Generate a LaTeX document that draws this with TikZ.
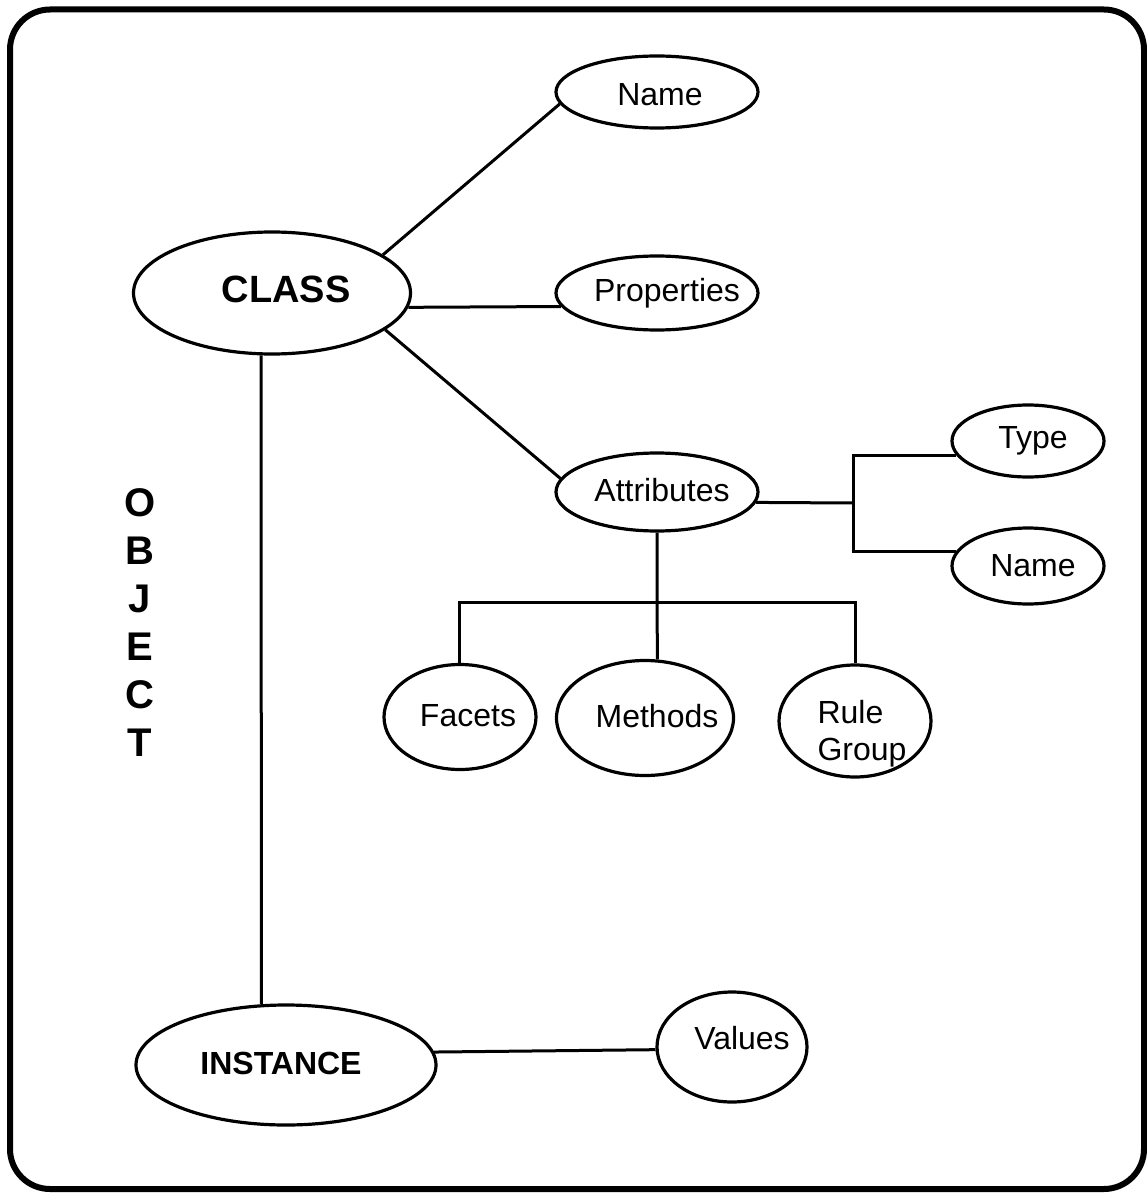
\documentclass[tikz,border=0pt]{standalone}
\usepackage{fontspec}
\setmainfont{Liberation Sans}
\usetikzlibrary{shapes.geometric}
\tikzset{
  ell/.style={draw, ellipse, line width=3.2pt, inner sep=0pt},
  lbl/.style={font=\fontsize{32}{37}\selectfont, inner sep=0pt, align=left},
  blbl/.style={font=\fontsize{38}{44}\selectfont\bfseries, inner sep=0pt},
  ilbl/.style={font=\fontsize{32}{37}\selectfont\bfseries, inner sep=0pt},
  conn/.style={line width=3pt},
  frame/.style={line width=6pt, rounded corners=40pt}
}
\begin{document}
\begin{tikzpicture}[x=1pt,y=-1pt]
\useasboundingbox (0,0) rectangle (1147,1193);
\draw[frame] (10,9.5) rectangle (1144,1189);

\node[ell, minimum width=202pt, minimum height=72pt,
  label={[lbl,xshift=3pt,yshift=-3pt,name=tname1]center:Name}] (name1) at (657,92) {};
\node[ell, minimum width=277pt, minimum height=122pt,
  label={[blbl,xshift=14pt,yshift=4pt,name=tclass]center:CLASS}] (class) at (272,293) {};
\node[ell, minimum width=202pt, minimum height=74pt,
  label={[lbl,xshift=10pt,yshift=0pt,name=tprop]center:Properties}] (prop) at (657,293) {};
\node[ell, minimum width=202pt, minimum height=78pt,
  label={[lbl,xshift=5pt,yshift=2pt,name=tattr]center:Attributes}] (attr) at (657,492) {};
\node[ell, minimum width=152pt, minimum height=72pt,
  label={[lbl,xshift=5pt,name=ttype]center:Type}] (type) at (1028,441) {};
\node[ell, minimum width=152pt, minimum height=76pt,
  label={[lbl,xshift=5pt,name=tname2]center:Name}] (name2) at (1028,566) {};
\node[ell, minimum width=152pt, minimum height=105pt,
  label={[lbl,xshift=8pt,yshift=1pt,name=tfac]center:Facets}] (fac) at (460,717) {};
\node[ell, minimum width=177pt, minimum height=115pt,
  label={[lbl,xshift=12pt,yshift=2pt,name=tmeth]center:Methods}] (meth) at (645,718) {};
\node[ell, minimum width=152pt, minimum height=112pt,
  label={[lbl,xshift=7pt,yshift=-13pt,name=trule]center:Rule\\Group}] (rule) at (855,721) {};
\node[ell, minimum width=300pt, minimum height=120pt,
  label={[ilbl,xshift=-5pt,yshift=2pt,name=tinst]center:INSTANCE}] (inst) at (286,1065) {};
\node[ell, minimum width=150pt, minimum height=110pt,
  label={[lbl,xshift=10pt,yshift=9pt,name=tval]center:Values}] (val) at (732,1047) {};

\node[font=\fontsize{40}{48}\selectfont\bfseries, align=center, inner sep=0pt] (obj) at (140,623) {O\\B\\J\\E\\C\\T};

\coordinate (br) at (853,503);
\coordinate (hub) at (657,602);

\draw[conn] (class.19) -- (name1.187);
\draw[conn] (class.-6) -- (prop.188.5);
\draw[conn] (class.-18.4) -- (attr.172.9);
\draw[conn] (class.260.7) -- (inst.112);
\draw[conn] (inst.5.9) -- (val.182.3);
\draw[conn] (attr.-6.5) -- (br);
\draw[conn] (type.191.3) -| (br) |- (name2.169.7);
\draw[conn] (attr.south) -- (hub) -- (meth.78);
\draw[conn] (fac.91) |- (hub) -| (rule.north);
\end{tikzpicture}
\end{document}
